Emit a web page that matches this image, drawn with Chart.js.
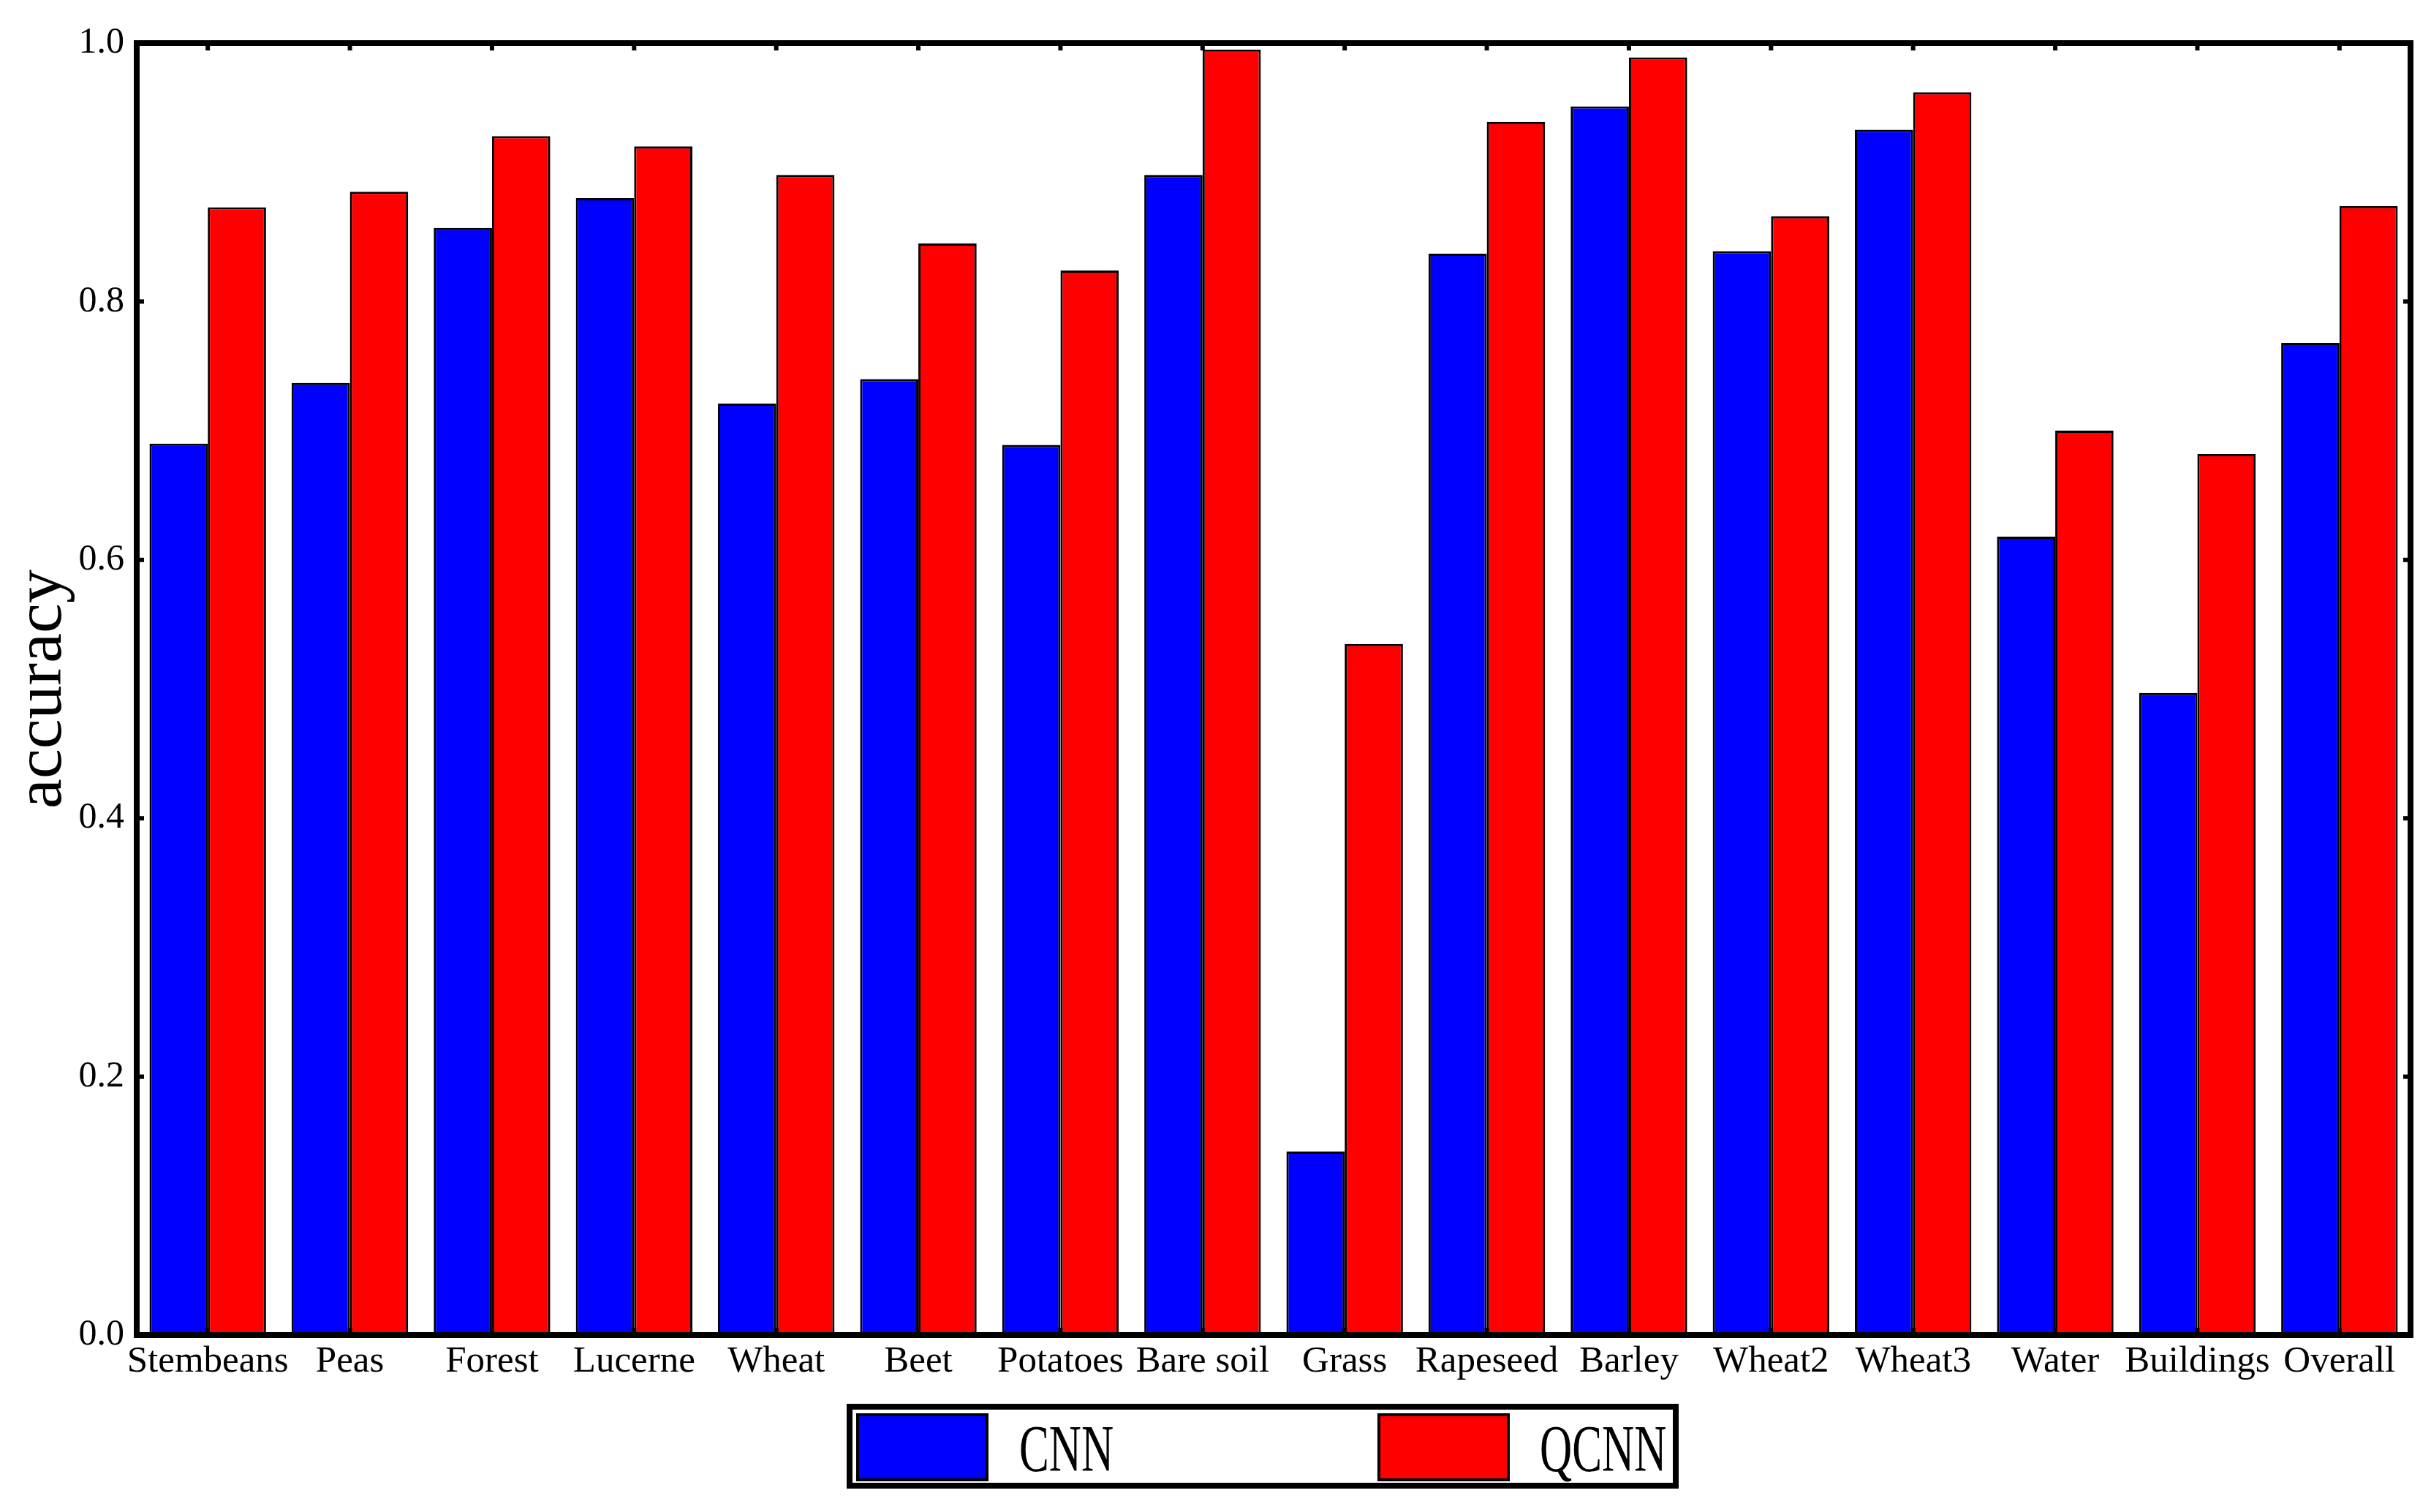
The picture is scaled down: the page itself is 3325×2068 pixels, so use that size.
<!DOCTYPE html>
<html>
<head>
<meta charset="utf-8">
<script src="https://cdn.jsdelivr.net/npm/chart.js@4/dist/chart.umd.min.js"></script>
<style>
  html, body { margin: 0; padding: 0; background: #fff; }
  #wrap { width: 3325px; height: 2068px; }
</style>
</head>
<body>
<div id="wrap"><canvas id="myChart" width="3325" height="2068"></canvas></div>
<script>
'use strict'

let categories = ['Stembeans', 'Peas', 'Forest', 'Lucerne', 'Wheat', 'Beet', 'Potatoes', 'Bare soil',
    'Grass', 'Rapeseed', 'Barley', 'Wheat2', 'Wheat3', 'Water', 'Buildings', 'Overall'];
let cnnValues = [0.690, 0.737, 0.857, 0.880, 0.721, 0.740, 0.689, 0.898,
    0.142, 0.837, 0.951, 0.839, 0.933, 0.618, 0.497, 0.768];
let qcnnValues = [0.873, 0.885, 0.928, 0.920, 0.898, 0.845, 0.824, 0.995,
    0.535, 0.939, 0.989, 0.866, 0.962, 0.700, 0.682, 0.874];
let yTicks = [0.0, 0.2, 0.4, 0.6, 0.8, 1.0];

let serif = '"Liberation Serif", "DejaVu Serif", serif';

// frame + inward tick marks, like the matlab style axes
let framePlugin = {
    id: 'frame',
    afterDraw(chart) {
        let ctx = chart.ctx;
        let a = chart.chartArea;
        let xs = chart.scales.x;
        let ys = chart.scales.y;
        let tl = 10;
        ctx.save();
        ctx.fillStyle = '#000';
        for (let i = 0; i < xs.ticks.length; i++) {
            let px = xs.getPixelForTick(i);
            ctx.fillRect(px - 3, a.top, 6, tl);
            ctx.fillRect(px - 3, a.bottom - tl, 6, tl);
        }
        for (let i = 0; i < ys.ticks.length; i++) {
            let py = ys.getPixelForTick(i);
            ctx.fillRect(a.left, py - 3, tl, 6);
            ctx.fillRect(a.right - tl, py - 3, tl, 6);
        }
        ctx.strokeStyle = '#000';
        ctx.lineWidth = 8;
        ctx.strokeRect(a.left, a.top, a.right - a.left, a.bottom - a.top);
        ctx.restore();
    }
};

// boxed legend under the plot
let legendPlugin = {
    id: 'boxLegend',
    afterDraw(chart) {
        let ctx = chart.ctx;
        let ds = chart.data.datasets;
        let boxX = 1162, boxY = 1924, boxW = 1130, boxH = 108;
        let swatchX = [1173, 1886];
        let textX = [1394, 2106];
        ctx.save();
        ctx.strokeStyle = '#000';
        ctx.lineWidth = 8;
        ctx.strokeRect(boxX, boxY, boxW, boxH);
        for (let i = 0; i < ds.length; i++) {
            ctx.fillStyle = ds[i].backgroundColor;
            ctx.fillRect(swatchX[i], 1935, 177, 89);
            ctx.lineWidth = 4;
            ctx.strokeRect(swatchX[i], 1935, 177, 89);
            ctx.save();
            ctx.translate(textX[i], 2012);
            ctx.scale(0.68, 1);
            ctx.fillStyle = '#000';
            ctx.font = '90px ' + serif;
            ctx.textBaseline = 'alphabetic';
            ctx.fillText(ds[i].label, 0, 0);
            ctx.restore();
        }
        ctx.restore();
    }
};

let ctx = document.getElementById('myChart').getContext('2d');
let myChart = new Chart(ctx, {
    type: 'bar',
    data: {
        labels: categories,
        datasets: [{
            label: 'CNN',
            data: cnnValues,
            backgroundColor: '#0000ff',
            borderColor: '#000',
            borderWidth: 3
        }, {
            label: 'QCNN',
            data: qcnnValues,
            backgroundColor: '#ff0000',
            borderColor: '#000',
            borderWidth: 3
        }]
    },
    options: {
        responsive: false,
        animation: false,
        devicePixelRatio: 1,
        layout: { padding: { left: 0, right: 28, top: 59, bottom: 0 } },
        datasets: {
            bar: { categoryPercentage: 0.82, barPercentage: 1.0 }
        },
        plugins: {
            legend: { display: false },
            tooltip: { enabled: false }
        },
        scales: {
            x: {
                grid: { display: false, drawTicks: false },
                border: { display: false },
                ticks: {
                    color: '#000',
                    font: { family: serif, size: 51 },
                    padding: 6,
                    autoSkip: false,
                    maxRotation: 0
                },
                afterFit(scale) { scale.height = 242; }
            },
            y: {
                min: 0,
                max: 1,
                grid: { display: false, drawTicks: false },
                border: { display: false },
                afterBuildTicks(scale) {
                    scale.ticks = yTicks.map(v => ({ value: v }));
                },
                ticks: {
                    color: '#000',
                    font: { family: serif, size: 50 },
                    padding: 17,
                    callback: v => Number(v).toFixed(1)
                },
                title: {
                    display: true,
                    text: 'accuracy',
                    color: '#000',
                    font: { family: serif, size: 92 },
                    padding: { top: 4, bottom: 0 }
                },
                afterFit(scale) { scale.width = 187; }
            }
        }
    },
    plugins: [framePlugin, legendPlugin]
});
</script>
</body>
</html>
